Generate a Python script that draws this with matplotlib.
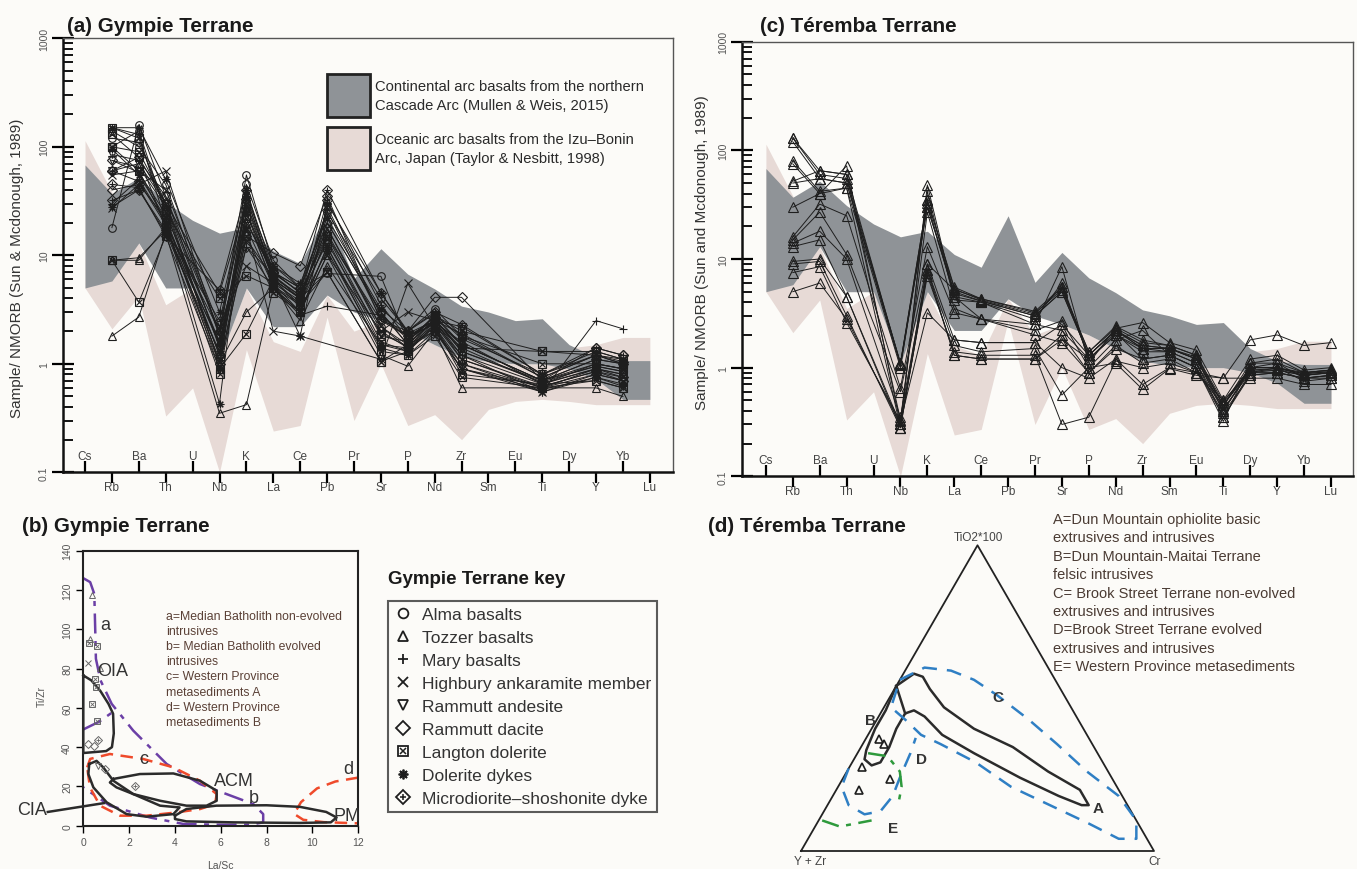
import numpy as np
import matplotlib
matplotlib.use('Agg')
import matplotlib.pyplot as plt
from matplotlib import font_manager
from matplotlib.lines import Line2D
from matplotlib.patches import Rectangle

W, H = 1357, 870
nan = np.nan

installed = {f.name for f in font_manager.fontManager.ttflist}
NARROW = 'Liberation Sans Narrow' if 'Liberation Sans Narrow' in installed else 'Liberation Sans'
plt.rcParams['font.family'] = ['Liberation Sans', 'DejaVu Sans']

BG = '#fcfbf8'
DARK = '#8f9397'
PINK = '#e7dad6'
INK = '#1e1e1e'

# spider diagram x axis (Sun & McDonough 1989 order)
ELEMENTS = ['Cs', 'Rb', 'Ba', 'Th', 'U', 'Nb', 'K', 'La', 'Ce', 'Pb', 'Pr',
            'Sr', 'P', 'Nd', 'Zr', 'Sm', 'Eu', 'Ti', 'Dy', 'Y', 'Yb', 'Lu']

# reference fields, one value per element above
cont_arc_hi = [68, 37, 52, 31, 21, 16, 18, 11, 8.4, 25, 6.1, 11.5, 6.7, 4.9, 3.4, 3.0, 2.5, 2.6, 1.5, 1.15, 1.07, 1.07]
cont_arc_lo = [5.0, 5.8, 13, 5.0, 5.0, 1.1, 5.0, 2.2, 2.2, 4.3, 3.0, 2.5, 2.0, 1.5, 1.15, 1.05, 1.0, 1.0, 0.9, 0.72, 0.47, 0.47]
ocean_arc_hi = [114, 38, 13, 3.5, 5.0, 1.1, 5.0, 1.6, 1.3, 4.3, 2.0, 2.5, 2.0, 1.5, 1.15, 1.05, 1.0, 1.0, 1.4, 1.5, 1.75, 1.75]
ocean_arc_lo = [5.0, 2.1, 4.2, 0.33, 0.6, 0.1, 1.35, 0.24, 0.27, 2.7, 0.3, 1.0, 0.27, 0.34, 0.2, 0.38, 0.45, 0.47, 0.45, 0.42, 0.42, 0.42]

# (a) Gympie Terrane samples
A_ELEMS = ['Rb', 'Ba', 'Th', 'Nb', 'K', 'La', 'Ce', 'Pb', 'Sr', 'P', 'Nd', 'Zr', 'Ti', 'Y', 'Yb']
alma_basalts = [
    [18, 160, 35, 2.0, 55, 8.0, 5.0, 6.8, 6.4, 1.6, 2.8, 1.5, 0.70, 1.0, 0.90],
    [100, 140, 25, 1.2, 35, 6.0, 4.0, 20, 3.0, 1.5, 2.5, 1.2, 0.65, 0.90, 0.80],
    [140, 100, 45, 1.8, 45, 9.0, 5.0, 25, 4.0, 2.0, 3.2, 1.8, 0.75, 1.2, 1.0],
    [120, 110, 30, 1.5, 25, 6.5, 4.2, 18, 2.2, 1.4, 2.6, 1.3, 0.68, 0.95, 0.85],
]
tozzer_basalts = [
    [1.8, 2.7, 16, 0.35, 0.42, 5.0, 3.0, 10, 1.2, 0.95, 2.0, 0.60, 0.60, 0.60, 0.50],
    [9.0, 9.0, 18, 1.0, 3.0, 5.0, 2.5, 8.0, 1.5, 1.3, 2.2, 0.80, 0.65, 0.70, 0.60],
    [9.0, 9.5, 17, 1.6, 20, 7.0, 4.5, 16, 2.2, 1.5, 2.6, 1.3, 0.70, 0.95, 0.85],
]
mary_basalts = [
    [30, 50, 20, 1.5, 12, 5.0, 2.8, 3.4, 2.8, 1.8, 2.3, 1.2, 0.55, 2.5, 2.1],
]
highbury_ankaramite = [
    [27, 45, 60, 1.8, 18, 2.0, 1.8, nan, 1.1, 5.5, 2.2, 0.90, 0.55, 0.80, 0.70],
    [55, 60, 40, 2.2, 8.0, 5.5, 3.0, 10, 2.0, 3.0, 2.5, 1.1, 0.60, 0.90, 0.75],
]
rammutt_andesite = [
    [60, 70, 30, 1.0, 25, 6.0, 3.5, 15, 2.5, 1.8, 2.5, 2.2, 0.80, 1.3, 1.1],
    [85, 75, 35, 1.4, 30, 6.0, 3.3, 28, 2.8, 1.7, 2.4, 1.6, 0.65, 1.0, 0.90],
    [75, 58, 24, 1.6, 14, 6.2, 4.3, 13, 1.9, 1.45, 2.3, 1.4, 0.66, 0.90, 0.80],
]
rammutt_dacite = [
    [60, 80, 30, 2.0, 15, 10.5, 8.0, 35, 2.5, 2.0, 4.1, 4.1, 0.70, 1.4, 1.2],
    [40, 45, 22, 1.2, 20, 7.0, 5.0, 20, 3.0, 1.5, 2.0, 1.0, 0.60, 0.80, 0.70],
    [75, 65, 28, 1.0, 12, 6.5, 4.0, 18, 2.0, 1.4, 2.0, 0.90, 0.62, 0.85, 0.75],
]
langton_dolerite = [
    [9.0, 3.7, 15, 0.9, 1.9, 6.0, 4.0, 7.0, 1.05, 1.3, 2.5, 1.4, 1.3, 1.2, 1.0],
    [150, 120, 25, 4.0, 6.5, 5.0, 3.5, 7.0, 1.05, 1.5, 2.8, 2.0, 1.3, 1.3, 1.1],
    [100, 90, 30, 4.5, 30, 7.0, 4.5, 15, 1.8, 1.6, 2.8, 1.8, 1.0, 1.0, 0.90],
    [100, 60, 20, 0.8, 15, 4.5, 3.0, 12, 1.3, 1.2, 1.8, 0.75, 0.60, 0.70, 0.60],
    [130, 80, 18, 1.1, 22, 5.5, 3.8, 14, 1.6, 1.3, 2.3, 1.1, 0.62, 0.85, 0.70],
]
dolerite_dykes = [
    [150, 130, 20, 0.43, 40, 6.0, 1.8, 30, 4.5, 1.9, 2.5, 1.5, 0.70, 1.1, 1.0],
    [28, 40, 16, 1.3, 25, 5.0, 3.0, 12, 1.5, 1.4, 2.2, 1.0, 0.55, 0.75, 0.65],
    [150, 150, 50, 3.0, 35, 8.0, 5.5, 22, 3.2, 2.0, 2.9, 1.7, 0.80, 1.2, 1.1],
    [95, 55, 22, 0.9, 18, 5.2, 3.6, 11, 1.4, 1.2, 2.0, 0.90, 0.58, 0.75, 0.62],
]
microdiorite_dyke = [
    [45, 42, 15, 4.8, 40, 7.0, 5.0, 40, 4.5, 2.0, 3.0, 2.3, 0.80, 1.4, 1.2],
    [32, 40, 17, 2.5, 28, 6.0, 4.0, 32, 3.5, 1.7, 2.7, 1.5, 0.70, 1.1, 1.0],
    [60, 48, 19, 2.0, 33, 6.8, 4.6, 26, 2.6, 1.8, 2.5, 1.9, 0.75, 1.2, 1.05],
]

# (c) Teremba Terrane samples
C_ELEMS = ['Rb', 'Ba', 'Th', 'Nb', 'K', 'La', 'Ce', 'Pr', 'Sr', 'P', 'Nd', 'Zr', 'Sm', 'Eu', 'Ti', 'Dy', 'Y', 'Yb', 'Lu']
teremba_samples = [
    [130, 60, 55, 1.1, 35, 5.5, 4.3, 3.3, 5.5, 1.4, 2.4, 1.8, 1.6, 1.3, 0.45, 1.0, 1.0, 0.9, 0.95],
    [120, 55, 50, 1.05, 30, 5.0, 4.1, 3.0, 5.0, 1.3, 2.2, 1.6, 1.5, 1.2, 0.40, 0.95, 0.95, 0.85, 0.9],
    [80, 42, 45, 0.28, 48, 4.5, 4.0, 2.8, 6.0, 1.2, 2.0, 1.5, 1.4, 1.1, 0.35, 0.9, 0.9, 0.8, 0.85],
    [75, 40, 72, 0.30, 42, 4.2, 4.0, 2.5, 8.5, 1.1, 2.3, 2.6, 1.7, 1.45, 0.50, 1.2, 1.3, 0.95, 1.0],
    [52, 65, 60, 0.33, 27, 3.5, 2.8, 2.2, 2.7, 1.0, 1.8, 2.2, 1.3, 1.0, 0.32, 1.1, 1.2, 0.9, 0.95],
    [50, 55, 50, 1.1, 30, 4.8, 4.1, 3.0, 5.0, 1.3, 2.2, 1.5, 1.5, 1.2, 0.42, 0.9, 0.95, 0.85, 0.9],
    [30, 40, 45, 1.0, 33, 4.5, 2.8, 2.5, 2.2, 1.2, 2.1, 1.2, 1.3, 1.0, 0.38, 0.85, 0.9, 0.8, 0.85],
    [16, 32, 25, 0.65, 13, 3.2, 2.8, 2.0, 1.7, 0.9, 1.6, 1.1, 1.2, 0.9, 0.80, 1.8, 2.0, 1.6, 1.7],
    [15, 27, 11, 0.60, 9, 1.8, 1.7, 1.7, 1.0, 0.8, 1.2, 0.7, 1.0, 0.9, 0.45, 1.0, 1.1, 0.8, 0.8],
    [14, 18, 10, 0.35, 8, 1.6, 1.4, 1.5, 0.56, 1.0, 1.1, 0.63, 0.98, 0.85, 0.80, 0.8, 0.8, 0.7, 0.7],
    [13, 15, 4.5, 0.30, 7, 1.4, 1.3, 1.3, 0.30, 0.35, 1.15, 1.0, 1.1, 0.9, 0.50, 0.9, 1.0, 0.75, 0.8],
    [9.5, 10, 4.5, 0.28, 8, 1.3, 1.2, 1.2, 2.0, 0.9, 1.5, 1.2, 1.3, 1.0, 0.35, 0.85, 0.9, 0.8, 0.85],
    [9, 9.5, 3.0, 0.28, 7.5, 1.3, 1.2, 1.2, 1.8, 1.2, 2.0, 1.4, 1.4, 1.1, 0.40, 1.0, 1.0, 0.85, 0.9],
    [7.5, 8.5, 2.6, 0.32, 3.2, 1.8, 1.7, 1.7, 2.5, 1.3, 2.2, 1.6, 1.5, 1.2, 0.45, 1.1, 1.1, 0.9, 0.95],
    [5, 6, 2.8, 0.30, 9, 5.2, 4.3, 3.2, 5.2, 1.4, 2.3, 1.7, 1.6, 1.3, 0.48, 1.0, 1.0, 0.88, 0.92],
    [130, 65, 60, 1.08, 35, 5.3, 4.2, 3.1, 5.5, 1.3, 2.2, 1.5, 1.5, 1.25, 0.45, 0.95, 0.98, 0.88, 0.92],
]

# (b) La/Sc vs Ti/Zr points
b_tozzer_x, b_tozzer_y = [0.36, 0.30, 0.73], [117.6, 95, 80.3]
b_highbury_x, b_highbury_y = [0.22], [83]
b_langton_x = [0.26, 0.58, 0.51, 0.55, 0.36, 0.58]
b_langton_y = [93, 91.5, 74.7, 70.4, 62, 53.5]
b_micro_x, b_micro_y = [0.62, 2.25], [43.5, 20.4]
b_dacite_x, b_dacite_y = [0.47, 0.22, 0.95], [40.7, 41.6, 28.8]
b_andesite_x, b_andesite_y = [0.65], [30.5]

# (b) discrimination fields (La/Sc, Ti/Zr)
field_oia = [(0, 76.5), (0.35, 74), (0.75, 68.5), (1.1, 62), (1.3, 57), (1.33, 47), (1.25, 40), (1.0, 38), (0.5, 37.5), (0, 37), (0, 76.5)]
field_cia = [(0.26, 31.4), (0.58, 33), (0.87, 29.7), (1.31, 22.9), (2.18, 16.1), (3.35, 10.2), (4.2, 9.3), (3.93, 5.9),
             (2.76, 4.6), (1.89, 5.9), (1.02, 11.9), (0.44, 19.5), (0.22, 26.3), (0.26, 31.4)]
cia_leader = [(-1.55, 7.0), (0.9, 11.5)]
field_acm = [(1.31, 23.8), (2.47, 26.3), (3.93, 26.6), (5.09, 22.9), (5.82, 17.8), (5.82, 12.7), (5.38, 10.2), (4.5, 10.2),
             (3.35, 12.7), (2.18, 16.1), (1.45, 19.5), (1.16, 22), (1.31, 23.8)]
field_pm = [(4.0, 5.1), (4.5, 8.5), (5.8, 10.2), (8.0, 10.4), (9.45, 9.6), (10.6, 7.0), (11.05, 4.2), (10.8, 1.7),
            (9.45, 1.4), (6.55, 1.7), (4.5, 2.2), (4.0, 3.4), (4.0, 5.1)]
field_ab = [(0, 126), (0.3, 124), (0.48, 118), (0.52, 100), (0.55, 85), (0.75, 74), (1.24, 62), (2.18, 48.4), (3.64, 31.4),
            (5.09, 21.2), (6.25, 16.1), (7.42, 11), (7.85, 5.9), (7.85, 1.7), (7.27, 0.5), (5.8, 0.5), (4.36, 0.9),
            (2.9, 4.2), (1.16, 10.2), (0, 19.5)]
field_a_base = [(0, 49), (0.7, 53), (1.3, 58)]
field_c = [(0.17, 29.7), (0.3, 34), (1.16, 36.5), (2.6, 34), (3.93, 29.7), (5.09, 22.9), (5.82, 16.1), (5.75, 11), (5.1, 8.5),
           (4.1, 6.8), (2.76, 5.1), (1.6, 5.1), (0.73, 10.2), (0.29, 19.5), (0.17, 29.7)]
field_d = [(12, 24.5), (11, 22.5), (10.2, 19), (9.5, 12), (9.2, 6), (9.6, 3), (10.5, 1.8), (12, 1.2)]

# (d) ternary (TiO2*100 %, Cr %), remainder Y+Zr
tern_triangles = [(36.5, 3.8), (35, 6), (27.5, 3.5), (23.6, 13.3), (19.8, 6.5)]
tern_ab = [(54, 0), (58, 3), (57, 6), (53, 10), (47, 17), (40, 29), (34, 43), (26, 57), (20, 69), (15, 74), (15, 72),
           (18, 64), (24, 50), (32, 33), (38, 21), (44, 13), (46, 9), (45, 7), (40, 7), (34, 8), (29, 8), (28, 6),
           (30, 3), (33, 2), (40, 1), (46, 1), (54, 0)]
tern_ab_inner = [(54, 0), (45, 7)]
tern_c = [(56, 0), (60, 5), (59, 13), (56, 21), (51, 30), (43, 43), (35, 55), (26, 68), (18, 81), (10, 90), (4, 93),
          (4, 88), (9, 77), (15, 63), (21, 49), (29, 35), (35, 22), (38, 15), (43, 8), (47, 2), (56, 0)]
tern_d = [(27, 0), (21, 1), (15, 6), (12, 12), (13, 16), (18, 17), (24, 16), (32, 15), (37, 14)]
tern_e1 = [(10, 1), (8, 7), (10, 15)]
tern_e2 = [(32, 3), (31, 9), (26, 15), (21, 18), (15, 20)]

key_labels = ['Alma basalts', 'Tozzer basalts', 'Mary basalts', 'Highbury ankaramite member', 'Rammutt andesite',
              'Rammutt dacite', 'Langton dolerite', 'Dolerite dykes', 'Microdiorite\u2013shoshonite dyke']
key_markers = ['o', '^', '+', 'x', 'v', 'D', ('s', 'x'), (8, 2, 0), ('D', '+')]

b_legend = ['a=Median Batholith non-evolved', 'intrusives', 'b= Median Batholith evolved', 'intrusives',
            'c= Western Province', 'metasediments A', 'd= Western Province', 'metasediments B']
d_legend = ['A=Dun Mountain ophiolite basic', 'extrusives and intrusives', 'B=Dun Mountain-Maitai Terrane',
            'felsic intrusives', 'C= Brook Street Terrane non-evolved', 'extrusives and intrusives',
            'D=Brook Street Terrane evolved', 'extrusives and intrusives', 'E= Western Province metasediments']


def fx(x):
    return x / W


def fy(y):
    return 1 - y / H


def spider_axes(ax, left_lim, right_lim):
    ax.set_facecolor(BG)
    ax.fill_between(range(len(ELEMENTS)), ocean_arc_lo, ocean_arc_hi, color=PINK, lw=0, zorder=1)
    ax.fill_between(range(len(ELEMENTS)), cont_arc_lo, cont_arc_hi, color=DARK, lw=0, zorder=2)
    ax.set_yscale('log')
    ax.set_ylim(0.1, 1000)
    ax.set_xlim(left_lim, right_lim)
    ax.set_yticks([0.1, 1, 10, 100, 1000])
    ax.set_yticklabels(['0.1', '1', '10', '100', '1000'], rotation=90, va='center', fontsize=7.5, color='#555')
    ax.tick_params(axis='y', which='major', direction='inout', length=16, width=1.6, pad=2)
    ax.tick_params(axis='y', which='minor', direction='in', length=7, width=1.3)
    ax.set_xticks(range(0, 22, 2))
    ax.set_xticks(range(1, 22, 2), minor=True)
    ax.tick_params(axis='x', which='major', direction='in', length=8, width=1.6, labelbottom=False)
    ax.tick_params(axis='x', which='minor', direction='out', length=8, width=1.6, labelbottom=False)
    for i, e in enumerate(ELEMENTS):
        off = 16 if i % 2 == 0 else -15
        ax.annotate(e, xy=(i, 0), xycoords=('data', 'axes fraction'), xytext=(0, off), textcoords='offset pixels',
                    ha='center', va='center', fontsize=8.5, family=NARROW, color='#444')
    for s in ['left', 'bottom']:
        ax.spines[s].set_linewidth(1.8)
        ax.spines[s].set_color('#111')
    for s in ['top', 'right']:
        ax.spines[s].set_linewidth(1.0)
        ax.spines[s].set_color('#555')


def spider_lines(ax, elems, samples, marker, ms=5.5):
    xs = np.array([ELEMENTS.index(e) for e in elems])
    over = None
    if isinstance(marker, tuple) and isinstance(marker[0], str):
        marker, over = marker
    for s in samples:
        v = np.array(s, dtype=float)
        ok = ~np.isnan(v)
        ax.plot(xs[ok], v[ok], color=INK, lw=0.7, marker=marker, ms=ms, mfc='none', mec=INK, mew=0.8, zorder=3)
        if over is not None:
            ax.plot(xs[ok], v[ok], ls='none', marker=over, ms=ms * 0.75, mec=INK, mew=0.8, zorder=3)


def tern_xy(pts):
    t = np.array([p[0] for p in pts]) / 100.0
    c = np.array([p[1] for p in pts]) / 100.0
    return c + t / 2, t * np.sqrt(3) / 2


def main():
    fig = plt.figure(figsize=(W / 100, H / 100), dpi=100)
    fig.patch.set_facecolor(BG)

    # (a)
    ax_a = fig.add_axes([fx(62.7), fy(473.3), 610 / W, 434 / H])
    spider_axes(ax_a, -0.83, 21.85)
    groups = [alma_basalts, tozzer_basalts, mary_basalts, highbury_ankaramite, rammutt_andesite,
              rammutt_dacite, langton_dolerite, dolerite_dykes, microdiorite_dyke]
    for g, m in zip(groups, key_markers):
        spider_lines(ax_a, A_ELEMS, g, m)

    # (c)
    ax_c = fig.add_axes([fx(741.7), fy(477.3), 611.6 / W, 434.6 / H])
    spider_axes(ax_c, -0.90, 21.83)
    spider_lines(ax_c, C_ELEMS, teremba_samples, '^', ms=7)

    # titles and y labels
    title_kw = dict(fontsize=14.9, fontweight='bold', family=NARROW, color='#1a1a1a', va='baseline')
    fig.text(fx(67), fy(31.7), '(a) Gympie Terrane', **title_kw)
    fig.text(fx(760), fy(31.5), '(c) T\u00e9remba Terrane', **title_kw)
    fig.text(fx(22), fy(531.7), '(b) Gympie Terrane', **title_kw)
    fig.text(fx(708), fy(531.7), '(d) T\u00e9remba Terrane', **title_kw)
    fig.text(fx(17), fy(268), 'Sample/ NMORB (Sun & Mcdonough, 1989)', rotation=90, ha='center', va='center',
             fontsize=11, color='#333')
    fig.text(fx(702), fy(253), 'Sample/ NMORB (Sun and Mcdonough, 1989)', rotation=90, ha='center', va='center',
             fontsize=11, color='#333')

    # (a) field legend
    for top, col, lines in [(75, DARK, ['Continental arc basalts from the northern', 'Cascade Arc (Mullen & Weis, 2015)']),
                            (128, PINK, ['Oceanic arc basalts from the Izu\u2013Bonin', 'Arc, Japan (Taylor & Nesbitt, 1998)'])]:
        fig.patches.append(Rectangle((fx(327), fy(top + 43)), 43 / W, 43 / H, transform=fig.transFigure,
                                     facecolor=col, edgecolor='#222', lw=2, zorder=5))
        for k, ln in enumerate(lines):
            fig.text(fx(375), fy(top + 12 + 19 * k), ln, va='center', fontsize=10.6, family=NARROW, color='#2a2a2a',
                     zorder=6)

    # (b)
    ax_b = fig.add_axes([fx(83.3), fy(826.7), 275 / W, 275 / H])
    ax_b.set_facecolor('none')
    ax_b.set_xlim(0, 12)
    ax_b.set_ylim(0, 140)
    ax_b.set_xticks(range(0, 13, 2))
    ax_b.set_yticks(range(0, 141, 20))
    ax_b.set_yticklabels([str(v) for v in range(0, 141, 20)], rotation=90, va='center')
    ax_b.tick_params(direction='out', length=5, width=1, labelsize=7.5, labelcolor='#555', pad=3)
    for s in ax_b.spines.values():
        s.set_linewidth(1.5)
        s.set_color('#222')
    fig.text(fx(220), fy(866), 'La/Sc', ha='center', va='center', fontsize=7.5, color='#555')
    fig.text(fx(42), fy(697), 'Ti/Zr', rotation=90, ha='center', va='center', fontsize=7.5, color='#555')

    black_kw = dict(color='#2b2b2b', lw=1.8, clip_on=False, zorder=3)
    for f in [field_oia, field_cia, field_acm, field_pm, cia_leader]:
        ax_b.plot([p[0] for p in f], [p[1] for p in f], **black_kw)
    purple_kw = dict(color='#6b3fa6', lw=1.8, ls=(0, (8, 3, 2, 3)), clip_on=False, zorder=2)
    for f in [field_ab, field_a_base]:
        ax_b.plot([p[0] for p in f], [p[1] for p in f], **purple_kw)
    red_kw = dict(color='#ef4a2b', lw=1.8, ls=(0, (5, 3)), clip_on=False, zorder=2)
    for f in [field_c, field_d]:
        ax_b.plot([p[0] for p in f], [p[1] for p in f], **red_kw)

    pt_kw = dict(ls='none', ms=4, mfc='none', mec='#666', mew=0.7, zorder=4)
    ax_b.plot(b_tozzer_x, b_tozzer_y, marker='^', **pt_kw)
    ax_b.plot(b_highbury_x, b_highbury_y, marker='x', **pt_kw)
    ax_b.plot(b_langton_x, b_langton_y, marker='s', **pt_kw)
    ax_b.plot(b_langton_x, b_langton_y, marker='x', ls='none', ms=3, mec='#666', mew=0.6, zorder=4)
    ax_b.plot(b_micro_x, b_micro_y, marker='D', **pt_kw)
    ax_b.plot(b_micro_x, b_micro_y, marker='+', ls='none', ms=3, mec='#666', mew=0.6, zorder=4)
    ax_b.plot(b_dacite_x, b_dacite_y, marker='D', **pt_kw)
    ax_b.plot(b_andesite_x, b_andesite_y, marker='v', **pt_kw)

    lab_kw = dict(fontsize=13, color='#333', zorder=5)
    ax_b.text(0.75, 100, 'a', **lab_kw)
    ax_b.text(0.6, 79, 'OIA', va='center', **lab_kw)
    ax_b.text(2.45, 34, 'c', va='center', **lab_kw)
    ax_b.text(5.7, 23, 'ACM', va='center', **lab_kw)
    ax_b.text(7.2, 14.5, 'b', va='center', **lab_kw)
    ax_b.text(11.35, 29, 'd', va='center', **lab_kw)
    ax_b.text(10.9, 5, 'PM', va='center', **lab_kw)
    ax_b.text(-1.6, 8.5, 'CIA', ha='right', va='center', **lab_kw)
    for k, ln in enumerate(b_legend):
        fig.text(fx(165.7), fy(616.7 + 15.2 * k), ln, va='center', fontsize=8.8, color='#5a4036')

    # key
    fig.text(fx(388), fy(584), 'Gympie Terrane key', fontsize=13.5, fontweight='bold', va='baseline', color='#1a1a1a')
    handles = []
    for m in key_markers:
        if isinstance(m, tuple) and isinstance(m[0], str):
            handles.append((Line2D([], [], ls='none', marker=m[0], ms=7, mfc='none', mec=INK, mew=1.3),
                            Line2D([], [], ls='none', marker=m[1], ms=5, mec=INK, mew=1.1)))
        else:
            handles.append(Line2D([], [], ls='none', marker=m, ms=7, mfc='none', mec=INK, mew=1.3))
    leg = fig.legend(handles, key_labels, loc='upper left', bbox_to_anchor=(fx(388), fy(602)), frameon=True,
                     fancybox=False, edgecolor='#333', fontsize=12.5, handlelength=1.0, handletextpad=0.6,
                     labelspacing=0.45, borderpad=0.35, borderaxespad=0)
    leg.get_frame().set_linewidth(1.5)
    leg.get_frame().set_facecolor(BG)
    for t in leg.get_texts():
        t.set_color('#333')

    # (d) ternary
    ax_d = fig.add_axes([fx(801), fy(852), 353 / W, 305.7 / H])
    ax_d.set_xlim(0, 1)
    ax_d.set_ylim(0, np.sqrt(3) / 2)
    ax_d.axis('off')
    ax_d.plot([0, 1, 0.5, 0], [0, 0, np.sqrt(3) / 2, 0], color='#222', lw=1.3, clip_on=False)
    x, y = tern_xy(tern_ab)
    ax_d.plot(x, y, color='#2b2b2b', lw=1.8, clip_on=False)
    x, y = tern_xy(tern_ab_inner)
    ax_d.plot(x, y, color='#2b2b2b', lw=1.8, clip_on=False)
    for f in [tern_c, tern_d]:
        x, y = tern_xy(f)
        ax_d.plot(x, y, color='#2f7fc4', lw=1.8, ls=(0, (6, 4)), clip_on=False)
    for f in [tern_e1, tern_e2]:
        x, y = tern_xy(f)
        ax_d.plot(x, y, color='#2e9a3c', lw=1.8, ls=(0, (7, 3, 2, 3)), clip_on=False)
    x, y = tern_xy(tern_triangles)
    ax_d.plot(x, y, ls='none', marker='^', ms=6, mfc='none', mec=INK, mew=1.2)
    for lab, p in [('A', (14, 75.5)), ('B', (43, -3.5)), ('C', (50.5, 29)), ('D', (30, 17.5)), ('E', (7.5, 21))]:
        x, y = tern_xy([p])
        ax_d.text(x[0], y[0], lab, fontsize=11, fontweight='bold', color='#333', ha='left', va='center')
    fig.text(fx(978), fy(538), 'TiO2*100', ha='center', va='center', fontsize=8.5, color='#444')
    fig.text(fx(810), fy(862), 'Y + Zr', ha='center', va='center', fontsize=8.5, color='#444')
    fig.text(fx(1155), fy(862), 'Cr', ha='center', va='center', fontsize=8.5, color='#444')
    for k, ln in enumerate(d_legend):
        fig.text(fx(1053), fy(520 + 18.4 * k), ln, va='center', fontsize=10.5, color='#4a3b33')

    fig.savefig('out.png', dpi=100, facecolor=BG)


main()
